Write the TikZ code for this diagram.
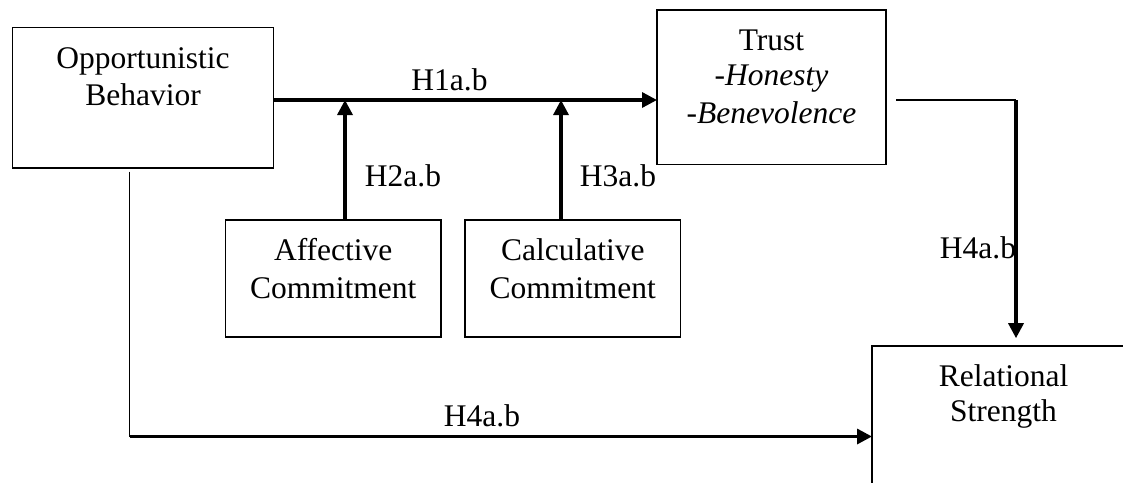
\documentclass[tikz,border=0pt]{standalone}
\usepackage{fontspec}
\setmainfont{Liberation Serif}
\usetikzlibrary{arrows.meta}
\begin{document}
\begin{tikzpicture}[x=1pt,y=-1pt,
  box/.style={draw, line width=1.9pt, inner sep=0pt, outer sep=0pt},
  txt/.style={font=\fontsize{31.5}{37}\selectfont, anchor=base, inner sep=0pt},
  heavy/.style={line width=3.3pt},
  light/.style={line width=1.7pt},
  tip/.style={-{Triangle[length=15pt,width=15pt]}}]
\useasboundingbox (0,0) rectangle (1123,482);
% boxes
\node[box, minimum width=261pt, minimum height=140.5pt] (opp) at (143,97.75) {};
\node[box, minimum width=229pt, minimum height=154.5pt] (trust) at (771.5,87.25) {};
\node[box, minimum width=215.5pt, minimum height=117pt] (aff) at (333.25,278.5) {};
\node[box, minimum width=215.5pt, minimum height=117pt] (calc) at (572.75,278.5) {};
\node[inner sep=0pt, outer sep=0pt, minimum width=263pt, minimum height=160pt] (rel) at (1003.5,425.7) {};
\draw[line width=1.9pt] (rel.north east) -- (rel.north west) -- (rel.south west);
% texts
\node[txt] (oppa) at (143,68) {Opportunistic};
\node[txt] (oppb) at (143,105) {Behavior};
\node[txt] (trusta) at (771.5,50) {Trust};
\node[txt] (trustb) at (771.5,85.5) {-\textit{Honesty}};
\node[txt] (trustc) at (771.5,123) {-\textit{Benevolence}};
\node[txt] (affa) at (333.25,260.7) {Affective};
\node[txt] (affb) at (333.25,298) {Commitment};
\node[txt] (calca) at (572.75,260.7) {Calculative};
\node[txt] (calcb) at (572.75,298) {Commitment};
\node[txt] (rela) at (1003.5,386) {Relational};
\node[txt] (relb) at (1003.5,421.7) {Strength};
% connector points
\coordinate (j0) at (273.5,100);
\coordinate (j1) at (345,100);
\coordinate (j2) at (561,100);
\coordinate (r0) at (896,100);
\coordinate (r1) at (1016,100);
\coordinate (b0) at (129.5,171.7);
\coordinate (b1) at (129.5,436.5);
% connectors
\draw[heavy, tip] (opp.east |- j0) -- (trust.west |- j0);
\draw[heavy, tip] (j1 |- aff.north) -- (j1);
\draw[heavy, tip] (j2 |- calc.north) -- (j2);
\draw[light] (r0) -- (r1);
\draw[heavy, tip, shorten >=7.5pt] (r1) -- (r1 |- rel.north);
\draw[light] (b0) -- (b1);
\draw[heavy, tip] (b1) -- (rel.west |- b1);
% labels
\node[txt] (h1) at (449.5,90) {H1a.b};
\node[txt] (h2) at (403,186) {H2a.b};
\node[txt] (h3) at (618,186) {H3a.b};
\node[txt] (h4r) at (978,258) {H4a.b};
\node[txt] (h4b) at (482,426.7) {H4a.b};
\end{tikzpicture}
\end{document}
